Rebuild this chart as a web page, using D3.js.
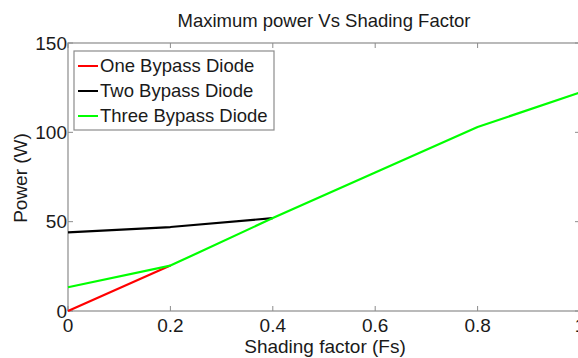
<!DOCTYPE html>
<html>
<head>
<meta charset="utf-8">
<script src="https://cdn.jsdelivr.net/npm/d3@7"></script>
<style>
  html, body { margin: 0; padding: 0; background: #fff; }
  svg { display: block; }
</style>
</head>
<body>
<div id="chart"></div>
<script>
// --- DATA ---
const oneX = [0, 0.2];
const oneY = [0, 25.4];
const twoX = [0, 0.2, 0.4];
const twoY = [44, 47, 52];
const threeX = [0, 0.2, 0.4, 0.6, 0.8, 1.0];
const threeY = [13.3, 25.4, 52, 77.5, 103, 122.3];
const seriesNames = ["One Bypass Diode", "Two Bypass Diode", "Three Bypass Diode"];
const xTicks = [0, 0.2, 0.4, 0.6, 0.8, 1.0];
const yTicks = [0, 50, 100, 150];

// --- CONFIG ---
const WIDTH = 578, HEIGHT = 358;
const PLOT = { left: 68, right: 580, top: 43, bottom: 311 };
const COLORS = ["#ff0000", "#000000", "#00ff00"];
const FONT = "'Liberation Sans', Arial, sans-serif";
const AXIS_COLOR = "#8c8c8c";
const TEXT_COLOR = "#1a1a1a";

const series = [
  oneX.map((x, i) => ({ x, y: oneY[i] })),
  twoX.map((x, i) => ({ x, y: twoY[i] })),
  threeX.map((x, i) => ({ x, y: threeY[i] }))
];

const x = d3.scaleLinear().domain([0, 1]).range([PLOT.left, PLOT.right]);
const y = d3.scaleLinear().domain([0, 150]).range([PLOT.bottom, PLOT.top]);

const svg = d3.select("#chart").append("svg")
  .attr("width", WIDTH).attr("height", HEIGHT)
  .style("font-family", FONT);

// plot box
svg.append("rect")
  .attr("x", PLOT.left).attr("y", PLOT.top)
  .attr("width", PLOT.right - PLOT.left).attr("height", PLOT.bottom - PLOT.top)
  .attr("fill", "#fff").attr("stroke", AXIS_COLOR).attr("stroke-width", 1.2);

// ticks (inward, all four sides)
const TL = 5;
const tickG = svg.append("g").attr("stroke", AXIS_COLOR).attr("stroke-width", 1);
xTicks.forEach(t => {
  tickG.append("line").attr("x1", x(t)).attr("x2", x(t)).attr("y1", PLOT.bottom).attr("y2", PLOT.bottom - TL);
  tickG.append("line").attr("x1", x(t)).attr("x2", x(t)).attr("y1", PLOT.top).attr("y2", PLOT.top + TL);
});
yTicks.forEach(t => {
  tickG.append("line").attr("x1", PLOT.left).attr("x2", PLOT.left + TL).attr("y1", y(t)).attr("y2", y(t));
  tickG.append("line").attr("x1", PLOT.right).attr("x2", PLOT.right - TL).attr("y1", y(t)).attr("y2", y(t));
});

// tick labels
svg.append("g").selectAll("text").data(xTicks).join("text")
  .attr("x", d => x(d)).attr("y", 332)
  .attr("text-anchor", "middle")
  .attr("font-size", 19).attr("fill", TEXT_COLOR)
  .text(d => d3.format("~g")(d));

svg.append("g").selectAll("text").data(yTicks).join("text")
  .attr("x", PLOT.left - 1).attr("y", d => y(d))
  .attr("dy", "0.35em")
  .attr("text-anchor", "end")
  .attr("font-size", 19).attr("fill", TEXT_COLOR)
  .text(d => d);

// lines
const line = d3.line().x(d => x(d.x)).y(d => y(d.y));
svg.append("g").selectAll("path").data(series).join("path")
  .attr("d", line)
  .attr("fill", "none")
  .attr("stroke", (d, i) => COLORS[i])
  .attr("stroke-width", 2.2)
  .attr("stroke-linejoin", "round");

// title and axis labels
svg.append("text")
  .attr("x", (PLOT.left + PLOT.right) / 2).attr("y", 27)
  .attr("text-anchor", "middle")
  .attr("font-size", 18.5).attr("fill", TEXT_COLOR)
  .text("Maximum power Vs Shading Factor");

svg.append("text")
  .attr("x", 325).attr("y", 353)
  .attr("text-anchor", "middle")
  .attr("font-size", 19).attr("fill", TEXT_COLOR)
  .text("Shading factor (Fs)");

svg.append("text")
  .attr("transform", `translate(27, 178) rotate(-90)`)
  .attr("text-anchor", "middle")
  .attr("font-size", 19).attr("fill", TEXT_COLOR)
  .text("Power (W)");

// legend
const legend = svg.append("g");
legend.append("rect")
  .attr("x", 74).attr("y", 51).attr("width", 200).attr("height", 79)
  .attr("fill", "#fff").attr("stroke", AXIS_COLOR).attr("stroke-width", 1.2);
seriesNames.forEach((name, i) => {
  const by = 72 + i * 25;
  legend.append("line")
    .attr("x1", 78).attr("x2", 98).attr("y1", by - 6).attr("y2", by - 6)
    .attr("stroke", COLORS[i]).attr("stroke-width", 2);
  legend.append("text")
    .attr("x", 100).attr("y", by)
    .attr("font-size", 18.5).attr("fill", TEXT_COLOR)
    .text(name);
});
</script>
</body>
</html>
